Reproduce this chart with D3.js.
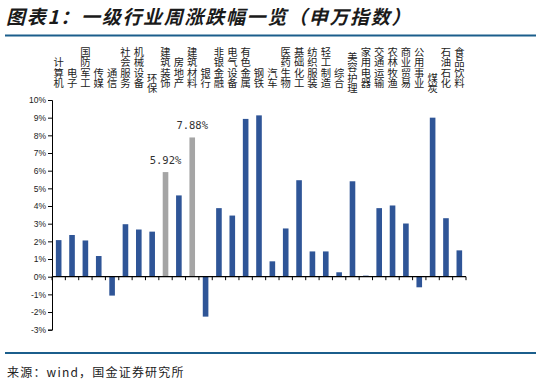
<!DOCTYPE html>
<html><head><meta charset="utf-8">
<script src="https://cdn.jsdelivr.net/npm/d3@7"></script>
<style>body{margin:0;background:#fff;}svg{display:block;}</style>
</head><body>
<script>
const categories = ["计算机","电子","国防军工","传媒","通信","社会服务","机械设备","环保","建筑装饰","房地产","建筑材料","银行","非银金融","电气设备","有色金属","钢铁","汽车","医药生物","基础化工","纺织服装","轻工制造","综合","美容护理","家用电器","交通运输","农林牧渔","商业贸易","公用事业","煤炭","石油石化","食品饮料"];
const values = [2.07,2.36,2.05,1.17,-1.07,2.97,2.67,2.55,5.92,4.60,7.88,-2.26,3.88,3.46,8.93,9.13,0.87,2.73,5.46,1.43,1.43,0.25,5.40,0.06,3.88,4.03,3.01,-0.60,9.00,3.31,1.49];
const highlighted = ["建筑装饰","建筑材料"];
const yTicks = [-3,-2,-1,0,1,2,3,4,5,6,7,8,9,10];
const titleText = "图表1：一级行业周涨跌幅一览（申万指数）";
const sourceText = "来源：wind，国金证券研究所";

const W = 541, H = 385;
const svg = d3.select("body").append("svg").attr("width", W).attr("height", H);
const font = "'Noto Sans CJK SC', 'DejaVu Sans', sans-serif";

svg.append("text").attr("x", 6).attr("y", 24).text(titleText)
  .attr("font-family", font).attr("font-size", 19).attr("font-weight", "bold")
  .attr("font-style", "italic").attr("letter-spacing", 1.7).attr("fill", "#1a1a1a");
svg.append("line").attr("x1", 5).attr("x2", 536).attr("y1", 35.5).attr("y2", 35.5)
  .attr("stroke", "#1b5e8c").attr("stroke-width", 2);
svg.append("line").attr("x1", 5).attr("x2", 536).attr("y1", 353).attr("y2", 353)
  .attr("stroke", "#1b5e8c").attr("stroke-width", 2);
svg.append("text").attr("x", 7).attr("y", 377).text(sourceText)
  .attr("font-family", font).attr("font-size", 12).attr("letter-spacing", 1.2).attr("fill", "#222");

const x = d3.scaleBand().domain(categories).range([52, 466]).paddingInner(0.58).paddingOuter(0.29);
const y = d3.scaleLinear().domain([-3, 10]).range([329.7, 100]);

// y axis
const yAxis = d3.axisLeft(y).tickValues(yTicks).tickFormat(d => d + "%").tickSize(4);
const ya = svg.append("g").attr("transform", "translate(52,0)").call(yAxis);
ya.select(".domain").attr("stroke", "#000").attr("stroke-width", 1);
ya.selectAll(".tick line").attr("stroke", "#000");
ya.selectAll(".tick text").attr("font-family", "'Liberation Sans', Arial, sans-serif")
  .attr("font-size", 8.5).attr("fill", "#222").attr("x", -6);

// bars
svg.append("g").selectAll("rect").data(categories).join("rect")
  .attr("x", d => x(d))
  .attr("width", x.bandwidth())
  .attr("y", (d, i) => y(Math.max(0, values[i])))
  .attr("height", (d, i) => Math.abs(y(values[i]) - y(0)))
  .attr("fill", d => highlighted.includes(d) ? "#a5a5a5" : "#2f5597");

// x axis at 0 with ticks between categories
const xTickPos = d3.range(categories.length + 1).map(i => 52 + i * (414 / categories.length));
svg.append("line").attr("x1", 52).attr("x2", 466).attr("y1", y(0)).attr("y2", y(0))
  .attr("stroke", "#000").attr("stroke-width", 1.2);
svg.append("g").selectAll("line").data(xTickPos).join("line")
  .attr("x1", d => d).attr("x2", d => d).attr("y1", y(0)).attr("y2", y(0) + 3.5)
  .attr("stroke", "#000");

// data labels for highlighted
highlighted.forEach(c => {
  const i = categories.indexOf(c);
  svg.append("text").attr("x", x(c) + x.bandwidth() / 2).attr("y", y(values[i]) - 8)
    .attr("text-anchor", "middle").attr("font-family", "'DejaVu Sans Mono', monospace")
    .attr("font-size", 10.5).attr("fill", "#333").text(values[i].toFixed(2) + "%");
});

// vertical category labels, one character per line
const shifted = new Set(["环保","煤炭","美容护理"]);
const lh = 10.3;
const lg = svg.append("g");
categories.forEach(c => {
  const chars = Array.from(c);
  const cx = x(c) + x.bandwidth() / 2;
  const bottom = 87 + (shifted.has(c) ? 5 : 0);
  chars.forEach((ch, k) => {
    lg.append("text").attr("x", cx).attr("y", bottom - (chars.length - 1 - k) * lh)
      .attr("text-anchor", "middle").attr("font-family", font)
      .attr("font-size", 10.3).attr("fill", "#222").text(ch);
  });
});
</script>
</body></html>
